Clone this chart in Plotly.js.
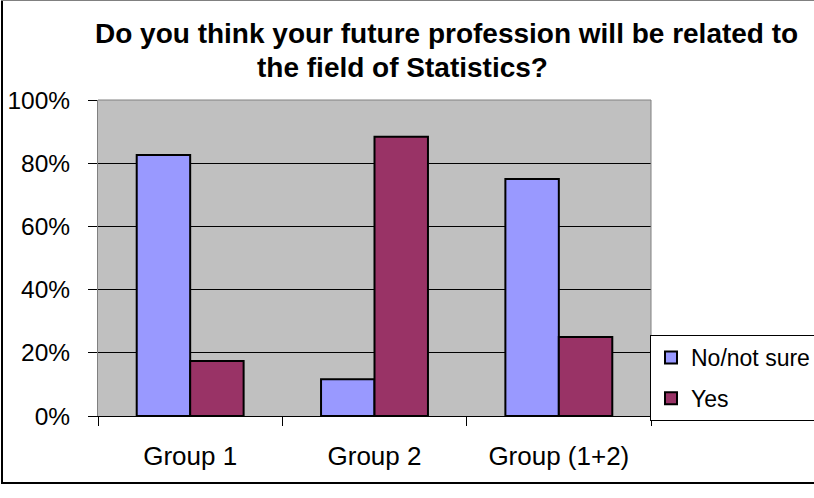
<!DOCTYPE html>
<html>
<head>
<meta charset="utf-8">
<script src="https://cdn.plot.ly/plotly-3.0.1.min.js"></script>
<style>html,body{margin:0;padding:0;background:#fff;}#chart{width:814px;height:498px;}</style>
</head>
<body>
<div id="chart"></div>
<script>
const categories = ["Group 1", "Group 2", "Group (1+2)"];
const seriesNames = ["No/not sure", "Yes"];
const noNotSure = [82.6, 11.6, 75.0];
const yes = [17.4, 88.4, 25.0];
const yTickVals = [0, 20, 40, 60, 80, 100];
const yTickText = ["0%", "20%", "40%", "60%", "80%", "100%"];
const titleLines = ["Do you think your future profession will be related to", "the field of Statistics?"];

const FONT = "Liberation Sans, Arial, sans-serif";
const W = 814, H = 498;
const L = 98, R = 163, T = 100, B = 82;
const pw = W - L - R, ph = H - T - B;
const px = x => (x - L) / pw;
const py = y => (H - B - y) / ph;

const traces = [
  {type: "bar", name: seriesNames[0], x: categories, y: noNotSure, legendgroup: "a",
   marker: {color: "#9999ff", line: {color: "#000000", width: 2}}},
  {type: "bar", name: seriesNames[1], x: categories, y: yes, legendgroup: "b",
   marker: {color: "#993366", line: {color: "#000000", width: 2}}}
];

const layout = {
  width: W, height: H,
  margin: {l: L, r: R, t: T, b: B, pad: 0, autoexpand: false},
  paper_bgcolor: "#ffffff",
  plot_bgcolor: "#c0c0c0",
  font: {family: FONT, color: "#000000"},
  barmode: "group",
  bargap: 0.42,
  bargroupgap: 0,
  showlegend: true,
  legend: {
    x: px(650), y: py(335), xanchor: "left", yanchor: "top",
    bgcolor: "#ffffff", bordercolor: "#000000", borderwidth: 1,
    font: {family: FONT, size: 23, color: "#000000"},
    traceorder: "grouped", tracegroupgap: 8
  },
  annotations: [
    {text: "<b>" + titleLines[0] + "</b>", xref: "paper", yref: "paper",
     x: px(446), y: py(33), xanchor: "center", yanchor: "middle", showarrow: false,
     font: {family: FONT, size: 28, color: "#000000"}},
    {text: "<b>" + titleLines[1] + "</b>", xref: "paper", yref: "paper",
     x: px(402), y: py(68), xanchor: "center", yanchor: "middle", showarrow: false,
     font: {family: FONT, size: 28, color: "#000000"}}
  ],
  xaxis: {
    type: "category",
    tickfont: {family: FONT, size: 26, color: "#000000"},
    ticks: "outside", ticklen: 9, tickcolor: "#000000", tickwidth: 1,
    tickson: "boundaries",
    showline: true, linecolor: "#000000", linewidth: 1,
    showgrid: false, fixedrange: true,
    ticklabelstandoff: 17
  },
  yaxis: {
    range: [0, 100],
    tickvals: yTickVals, ticktext: yTickText,
    tickfont: {family: FONT, size: 24.5, color: "#000000"},
    ticks: "outside", ticklen: 9, tickcolor: "#000000", tickwidth: 1,
    showgrid: true, gridcolor: "#000000", gridwidth: 1,
    zeroline: false,
    showline: true, linecolor: "#808080", linewidth: 1,
    fixedrange: true,
    ticklabelstandoff: 13
  },
  shapes: [
    {type: "line", xref: "paper", yref: "paper", x0: 1, x1: 1, y0: 0, y1: 1, line: {color: "#808080", width: 1}},
    {type: "line", xref: "paper", yref: "paper", x0: 0, x1: 1, y0: 1, y1: 1, line: {color: "#808080", width: 1}},
    {type: "line", xref: "paper", yref: "paper", x0: px(2), x1: px(2), y0: py(483), y1: py(0), line: {color: "#000000", width: 2}},
    {type: "line", xref: "paper", yref: "paper", x0: px(1), x1: px(814), y0: py(483), y1: py(483), line: {color: "#000000", width: 2}},
    {type: "line", xref: "paper", yref: "paper", x0: px(1), x1: px(814), y0: py(0.5), y1: py(0.5), line: {color: "#808080", width: 1}}
  ]
};

Plotly.newPlot("chart", traces, layout, {displayModeBar: false, staticPlot: true});
</script>
</body>
</html>
